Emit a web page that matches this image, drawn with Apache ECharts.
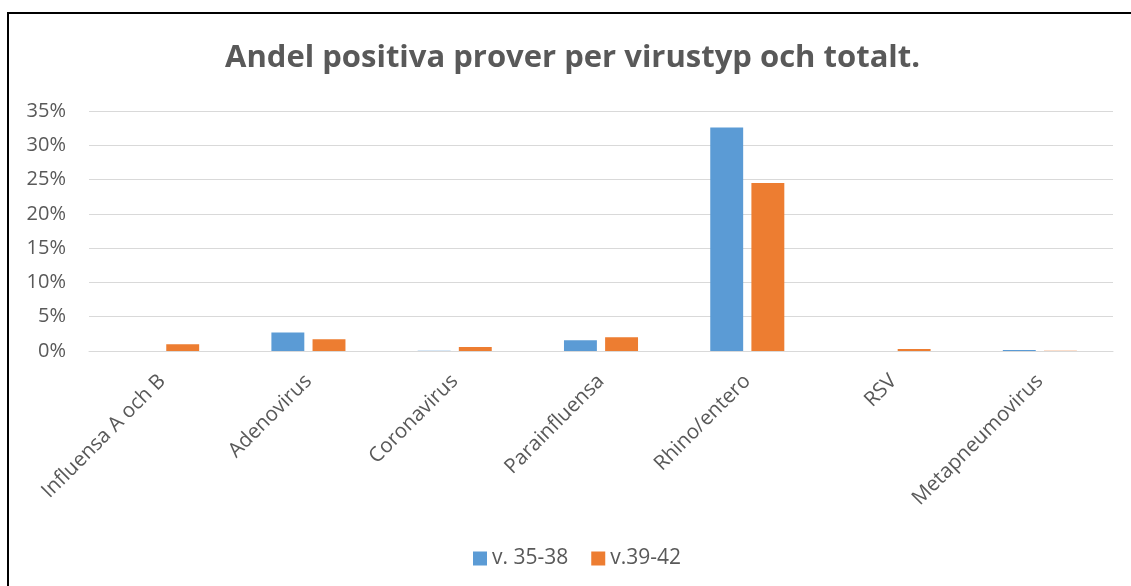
<!DOCTYPE html>
<html><head><meta charset="utf-8">
<script src="https://cdn.jsdelivr.net/npm/echarts@6/dist/echarts.min.js"></script>
<style>html,body{margin:0;padding:0;background:#fff}#c{width:1131px;height:586px}</style>
</head><body><div id="c"></div>
<script>
const categories = ["Influensa A och B","Adenovirus","Coronavirus","Parainfluensa","Rhino/entero","RSV","Metapneumovirus"];
const seriesNames = ["v. 35-38","v.39-42"];
const v3538 = [0, 2.7, 0.05, 1.55, 32.6, 0, 0.15];
const v3942 = [1.0, 1.7, 0.6, 2.0, 24.5, 0.3, 0.05];
const yTicks = [0,5,10,15,20,25,30,35];

const chart = echarts.init(document.getElementById('c'), null, {renderer:'canvas'});
const font = "'Open Sans', sans-serif";
chart.setOption({
  animation:false,
  title:{text:"Andel positiva prover per virustyp och totalt.", left:220, top:38,
    textStyle:{fontFamily:font, fontSize:31, fontWeight:'bold', color:'#595959'}},
  graphic:[{type:'rect', shape:{x:8,y:13,width:1200,height:700}, style:{fill:'none', stroke:'#000', lineWidth:2}, silent:true}],
  legend:{top:543, left:468, itemWidth:14, itemHeight:14, itemGap:23, icon:'rect',
    textStyle:{fontFamily:font, fontSize:21, color:'#595959'}, data:seriesNames},
  grid:{left:89, right:18, top:111, bottom:235, containLabel:false},
  xAxis:{type:'category', data:categories,
    axisLine:{show:true, lineStyle:{color:'#d9d9d9', width:1}}, axisTick:{show:false},
    axisLabel:{rotate:45, interval:0, margin:27, fontFamily:font, fontSize:20.5, color:'#595959'}},
  yAxis:{type:'value', min:0, max:35, interval:5,
    axisLine:{show:false}, axisTick:{show:false},
    splitLine:{lineStyle:{color:'#d9d9d9', width:1}},
    axisLabel:{formatter:v=>v+'%', margin:23, fontFamily:font, fontSize:20, color:'#595959'}},
  series:[
    {name:seriesNames[0], type:'bar', data:v3538, barWidth:'22.5%', barGap:'25%', itemStyle:{color:'#5b9bd5'}},
    {name:seriesNames[1], type:'bar', data:v3942, barWidth:'22.5%', barGap:'25%', itemStyle:{color:'#ed7d31'}}
  ]
});
</script></body></html>
